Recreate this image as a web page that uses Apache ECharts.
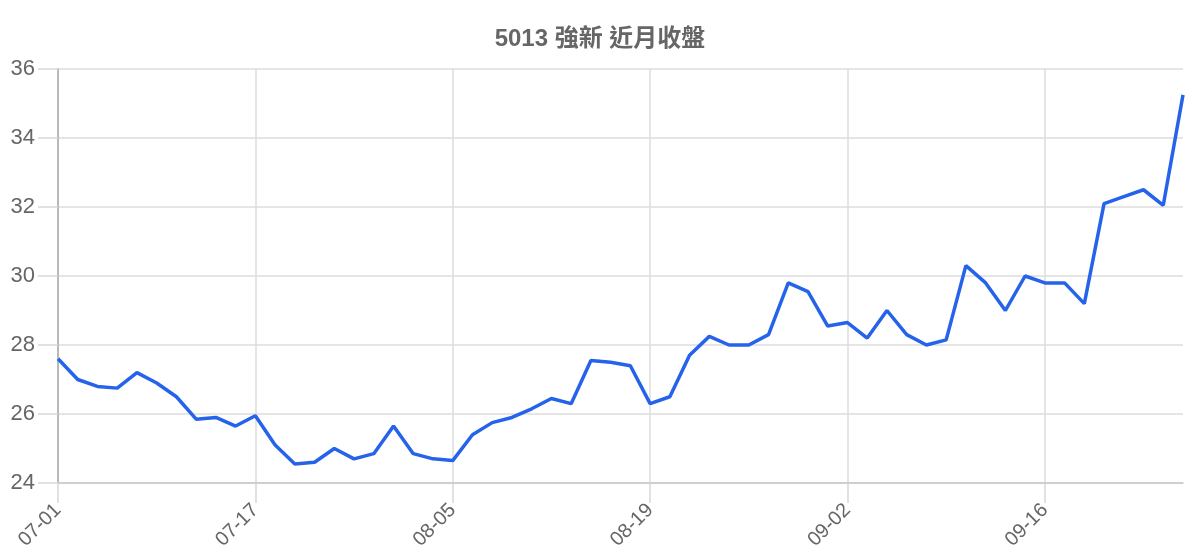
<!DOCTYPE html>
<html>
<head>
<meta charset="utf-8">
<script src="https://cdn.jsdelivr.net/npm/echarts@6/dist/echarts.min.js"></script>
<style>html,body{margin:0;padding:0;background:#fff}#c{width:1200px;height:560px}</style>
</head>
<body>
<div id="c"></div>
<script>
const titleText = "5013 強新 近月收盤";
const categories = [
  "07-01","07-02","07-03","07-05","07-08","07-09","07-11","07-12","07-15","07-16",
  "07-17","07-19","07-22","07-23","07-26","07-29","07-30","07-31","08-01","08-02",
  "08-05","08-06","08-07","08-08","08-09","08-12","08-13","08-14","08-15","08-16",
  "08-19","08-20","08-21","08-22","08-23","08-26","08-27","08-28","08-29","08-30",
  "09-02","09-03","09-04","09-05","09-06","09-09","09-10","09-11","09-12","09-13",
  "09-16","09-18","09-19","09-20","09-23","09-24","09-25","09-26"
];
const closes = [
  27.6, 27.0, 26.8, 26.75, 27.2, 26.9, 26.5, 25.85, 25.9, 25.65,
  25.95, 25.1, 24.55, 24.6, 25.0, 24.7, 24.85, 25.65, 24.85, 24.7,
  24.65, 25.4, 25.75, 25.9, 26.15, 26.45, 26.3, 27.55, 27.5, 27.4,
  26.3, 26.5, 27.7, 28.25, 28.0, 28.0, 28.3, 29.8, 29.55, 28.55,
  28.65, 28.2, 29.0, 28.3, 28.0, 28.15, 30.3, 29.8, 29.0, 30.0,
  29.8, 29.8, 29.2, 32.1, 32.3, 32.5, 32.05, 35.25
];
const yMin = 24, yMax = 36, yStep = 2;

const chart = echarts.init(document.getElementById('c'), null, {renderer: 'canvas'});
const font = '"Liberation Sans", "Noto Sans CJK TC", sans-serif';
chart.setOption({
  animation: false,
  backgroundColor: '#ffffff',
  title: {
    text: titleText,
    left: 'center',
    top: 22,
    textStyle: {fontSize: 24, fontWeight: 'bold', color: '#666666', fontFamily: font}
  },
  grid: {left: 58, right: 17, top: 69, bottom: 77, containLabel: false},
  xAxis: {
    type: 'category',
    data: categories,
    boundaryGap: false,
    axisLine: {show: true, lineStyle: {color: '#c8c8c8', width: 1.5}},
    axisTick: {show: true, inside: false, interval: 9, length: 20, lineStyle: {color: '#d8d8d8', width: 1.5}},
    axisLabel: {interval: 9, rotate: 45, margin: 24, fontSize: 20, color: '#666666', fontFamily: font},
    splitLine: {show: true, interval: 9, lineStyle: {color: '#dcdcdc', width: 1.5}}
  },
  yAxis: {
    type: 'value',
    min: yMin, max: yMax, interval: yStep,
    axisLine: {show: true, onZero: false, lineStyle: {color: '#aaaaaa', width: 1.5}},
    axisTick: {show: true, inside: false, length: 20, lineStyle: {color: '#d8d8d8', width: 1.5}},
    axisLabel: {margin: 23, fontSize: 22, color: '#666666', fontFamily: font},
    splitLine: {show: true, lineStyle: {color: '#dcdcdc', width: 1.5}}
  },
  series: [{
    type: 'line',
    data: closes,
    showSymbol: false,
    symbol: 'none',
    lineStyle: {color: '#2563eb', width: 3.5},
    itemStyle: {color: '#2563eb'}
  }]
});
</script>
</body>
</html>
